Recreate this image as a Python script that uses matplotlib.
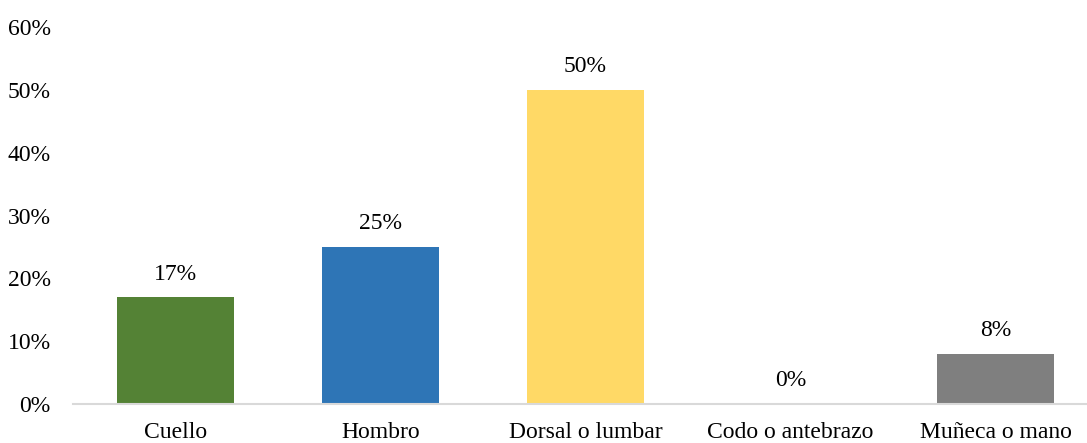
import matplotlib.pyplot as plt

plt.rcParams['font.family'] = ['Liberation Serif', 'DejaVu Serif']

categorias = ["Cuello", "Hombro", "Dorsal o lumbar", "Codo o antebrazo", "Muñeca o mano"]
porcentajes = [17, 25, 50, 0, 8]
colores = ["#548235", "#2E75B6", "#FFD966", "#A5A5A5", "#7F7F7F"]
yticks = [0, 10, 20, 30, 40, 50, 60]

fig = plt.figure(figsize=(10.87, 4.43), dpi=100)
ax = fig.add_axes([73 / 1087, 39 / 443, 1025 / 1087, 377 / 443])

x = range(len(categorias))
bars = ax.bar(x, porcentajes, width=0.575, color=colores)

for b, v in zip(bars, porcentajes):
    ax.annotate(f"{v}%", (b.get_x() + b.get_width() / 2, v),
                xytext=(0, 9), textcoords="offset points",
                ha="center", va="bottom", fontsize=17, color="#000000")

ax.set_xlim(-0.5, 4.5)
ax.set_ylim(0, 60)
ax.set_yticks(yticks)
ax.set_yticklabels([f"{t}%" for t in yticks])
ax.set_xticks(list(x))
ax.set_xticklabels(categorias)
ax.tick_params(axis="y", length=0, pad=16, labelsize=17)
ax.tick_params(axis="x", length=0, pad=13, labelsize=17)

for s in ["top", "right", "left"]:
    ax.spines[s].set_visible(False)
ax.spines["bottom"].set_color("#D9D9D9")
ax.spines["bottom"].set_linewidth(1.5)

fig.savefig("out.png", dpi=100)
